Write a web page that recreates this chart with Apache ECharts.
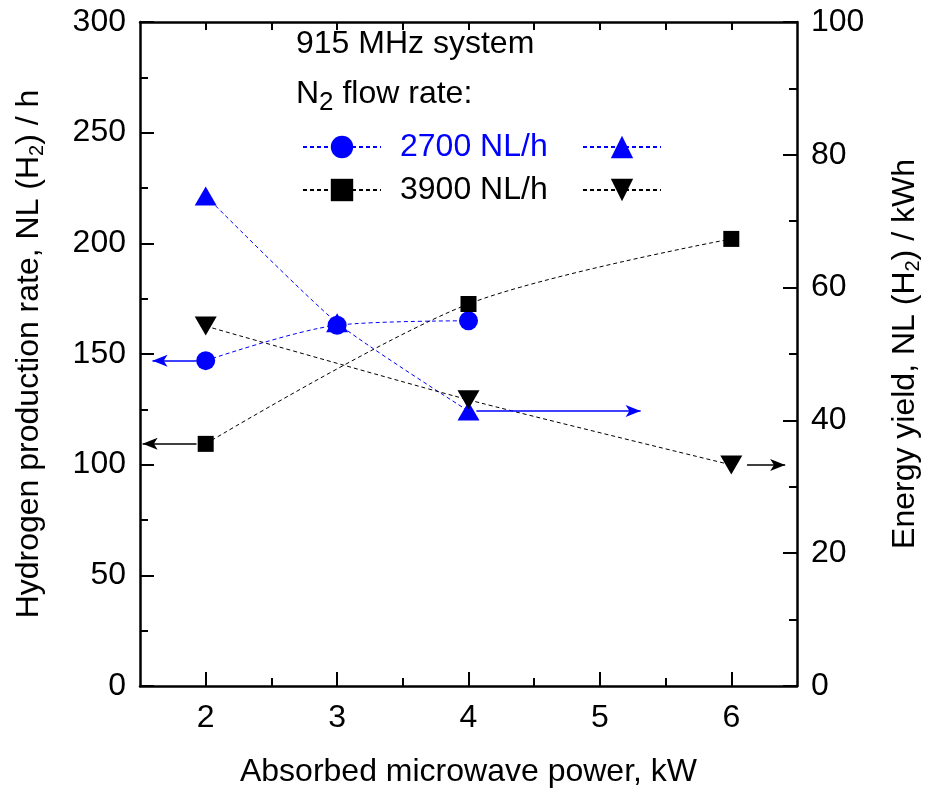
<!DOCTYPE html>
<html><head><meta charset="utf-8">
<script src="https://cdn.jsdelivr.net/npm/echarts@6/dist/echarts.min.js"></script>
<style>html,body{margin:0;padding:0;background:#fff}#c{width:928px;height:789px}</style>
</head><body><div id="c"></div>
<script>
// ---- data ----
const powerCircle = [2, 3, 4];
const rate2700 = [147, 163, 165];          // left axis, NL(H2)/h
const yield2700 = [73.8, 54.7, 41.4];      // right axis, NL(H2)/kWh
const power3900 = [2, 4, 6];
const rate3900 = [109.4, 172.6, 202];
const yield3900 = [54.2, 43.1, 33.3];
const xTicks = [2, 3, 4, 5, 6];
const xMinorTicks = [2.5, 3.5, 4.5, 5.5];
// arrows: [fromX, toX, y]
const arrowRate2700 = [1.93, 1.595, 147];
const arrowRate3900 = [1.93, 1.52, 109.4];
const arrowYield2700 = [4.06, 5.31, 41.4];
const arrowYield3900 = [6.12, 6.41, 33.3];

const FONT = 'Liberation Sans';
const FS = 32;
const BLUE = '#0000ff';
const BLACK = '#000000';

function pairs(xs, ys) { return xs.map((x, i) => [x, ys[i]]); }
function arrow(a, color) {
  return {
    silent: true, symbol: ['none', 'arrow'], symbolSize: [9, 15],
    label: { show: false },
    lineStyle: { color: color, type: 'solid', width: 1.5 },
    data: [[{ coord: [a[0], a[2]] }, { coord: [a[1], a[2]] }]],
    animation: false
  };
}
const subRich = { s: { fontSize: 20, fontFamily: FONT, color: BLACK, padding: [16, 0, 0, 0] } };

const chart = echarts.init(document.getElementById('c'), null, { renderer: 'canvas' });
const axisCommon = {
  axisLine: { lineStyle: { color: BLACK, width: 2.5 } },
  splitLine: { show: false },
  axisLabel: { color: BLACK, fontSize: FS, fontFamily: FONT },
  nameTextStyle: { color: BLACK, fontSize: FS, fontFamily: FONT, rich: subRich }
};
const legendCommon = {
  orient: 'vertical', itemWidth: 78, itemHeight: 28, itemGap: 11, top: 126
};
chart.setOption({
  animation: false,
  backgroundColor: '#fff',
  textStyle: { fontFamily: FONT },
  grid: { left: 140, right: 131, top: 22, bottom: 103, containLabel: false, outerBoundsMode: 'none' },
  title: [
    { text: '915 MHz system', left: 296, top: 28, padding: 0,
      textStyle: { fontSize: FS, fontWeight: 'normal', color: BLACK, fontFamily: FONT } },
    { text: 'N{s|2} flow rate:', left: 296, top: 72, padding: 0,
      textStyle: { fontSize: FS, fontWeight: 'normal', color: BLACK, fontFamily: FONT,
        rich: { s: { fontSize: 26, fontFamily: FONT, padding: [18, 0, 0, 0], color: BLACK } } } }
  ],
  legend: [
    Object.assign({}, legendCommon, { left: 297,
      textStyle: { fontSize: FS, fontFamily: FONT, color: BLACK, padding: [0, 0, 0, 14] },
      data: [{ name: '2700 NL/h', textStyle: { color: BLUE } }, { name: '3900 NL/h' }] }),
    Object.assign({}, legendCommon, { left: 577,
      formatter: () => ' ',
      textStyle: { fontSize: FS, fontFamily: FONT, color: BLACK },
      data: ['2700 NL/h yield', '3900 NL/h yield'] })
  ],
  xAxis: [
    Object.assign({}, axisCommon, {
      type: 'value', min: 1.5, max: 6.5, position: 'bottom',
      name: 'Absorbed microwave power, kW', nameLocation: 'middle', nameGap: 70,
      axisTick: { inside: true, length: 14, lineStyle: { width: 2, color: BLACK }, customValues: xTicks },
      axisLabel: Object.assign({}, axisCommon.axisLabel, { margin: 16, customValues: xTicks })
    }),
    { type: 'value', min: 1.5, max: 6.5, position: 'bottom',
      axisLine: { show: false }, splitLine: { show: false }, axisLabel: { show: false },
      axisTick: { inside: true, length: 8, lineStyle: { width: 2, color: BLACK }, customValues: xMinorTicks } },
    { type: 'value', min: 1.5, max: 6.5, position: 'top',
      axisLine: { show: true, onZero: false, lineStyle: { color: BLACK, width: 2.5 } }, splitLine: { show: false }, axisLabel: { show: false },
      axisTick: { inside: true, length: 8, lineStyle: { width: 2, color: BLACK }, customValues: xTicks.concat(xMinorTicks) } }
  ],
  yAxis: [
    Object.assign({}, axisCommon, {
      type: 'value', min: 0, max: 300, interval: 50, position: 'left',
      name: 'Hydrogen production rate, NL (H{s|2}) / h', nameLocation: 'middle', nameGap: 93,
      axisTick: { inside: true, length: 14, lineStyle: { width: 2, color: BLACK } },
      minorTick: { show: true, splitNumber: 2, length: 8, lineStyle: { width: 2, color: BLACK } },
      axisLabel: Object.assign({}, axisCommon.axisLabel, { margin: 14 })
    }),
    Object.assign({}, axisCommon, {
      type: 'value', min: 0, max: 100, interval: 20, position: 'right',
      name: 'Energy yield, NL (H{s|2}) / kWh', nameLocation: 'middle', nameGap: 90,
      axisTick: { inside: true, length: 14, lineStyle: { width: 2, color: BLACK } },
      minorTick: { show: true, splitNumber: 2, length: 8, lineStyle: { width: 2, color: BLACK } },
      axisLabel: Object.assign({}, axisCommon.axisLabel, { margin: 14 })
    })
  ],
  series: [
    { name: '2700 NL/h', type: 'line', xAxisIndex: 0, yAxisIndex: 0, data: pairs(powerCircle, rate2700),
      smooth: 0.3, symbol: 'circle', symbolSize: 19,
      lineStyle: { color: BLUE, width: 1, type: [4, 3] }, itemStyle: { color: BLUE },
      markLine: arrow(arrowRate2700, BLUE) },
    { name: '3900 NL/h', type: 'line', xAxisIndex: 0, yAxisIndex: 0, data: pairs(power3900, rate3900),
      smooth: 0.3, symbol: 'rect', symbolSize: 16,
      lineStyle: { color: BLACK, width: 1, type: [4, 3] }, itemStyle: { color: BLACK },
      markLine: arrow(arrowRate3900, BLACK) },
    { name: '2700 NL/h yield', type: 'line', xAxisIndex: 0, yAxisIndex: 1, data: pairs(powerCircle, yield2700),
      smooth: 0.2, symbol: 'triangle', symbolSize: [22, 19],
      lineStyle: { color: BLUE, width: 1, type: [4, 3] }, itemStyle: { color: BLUE },
      markLine: arrow(arrowYield2700, BLUE) },
    { name: '3900 NL/h yield', type: 'line', xAxisIndex: 0, yAxisIndex: 1, data: pairs(power3900, yield3900),
      smooth: 0.2, symbol: 'triangle', symbolRotate: 180, symbolSize: [22, 19],
      lineStyle: { color: BLACK, width: 1, type: [4, 3] }, itemStyle: { color: BLACK },
      markLine: arrow(arrowYield3900, BLACK) }
  ]
});
</script></body></html>
